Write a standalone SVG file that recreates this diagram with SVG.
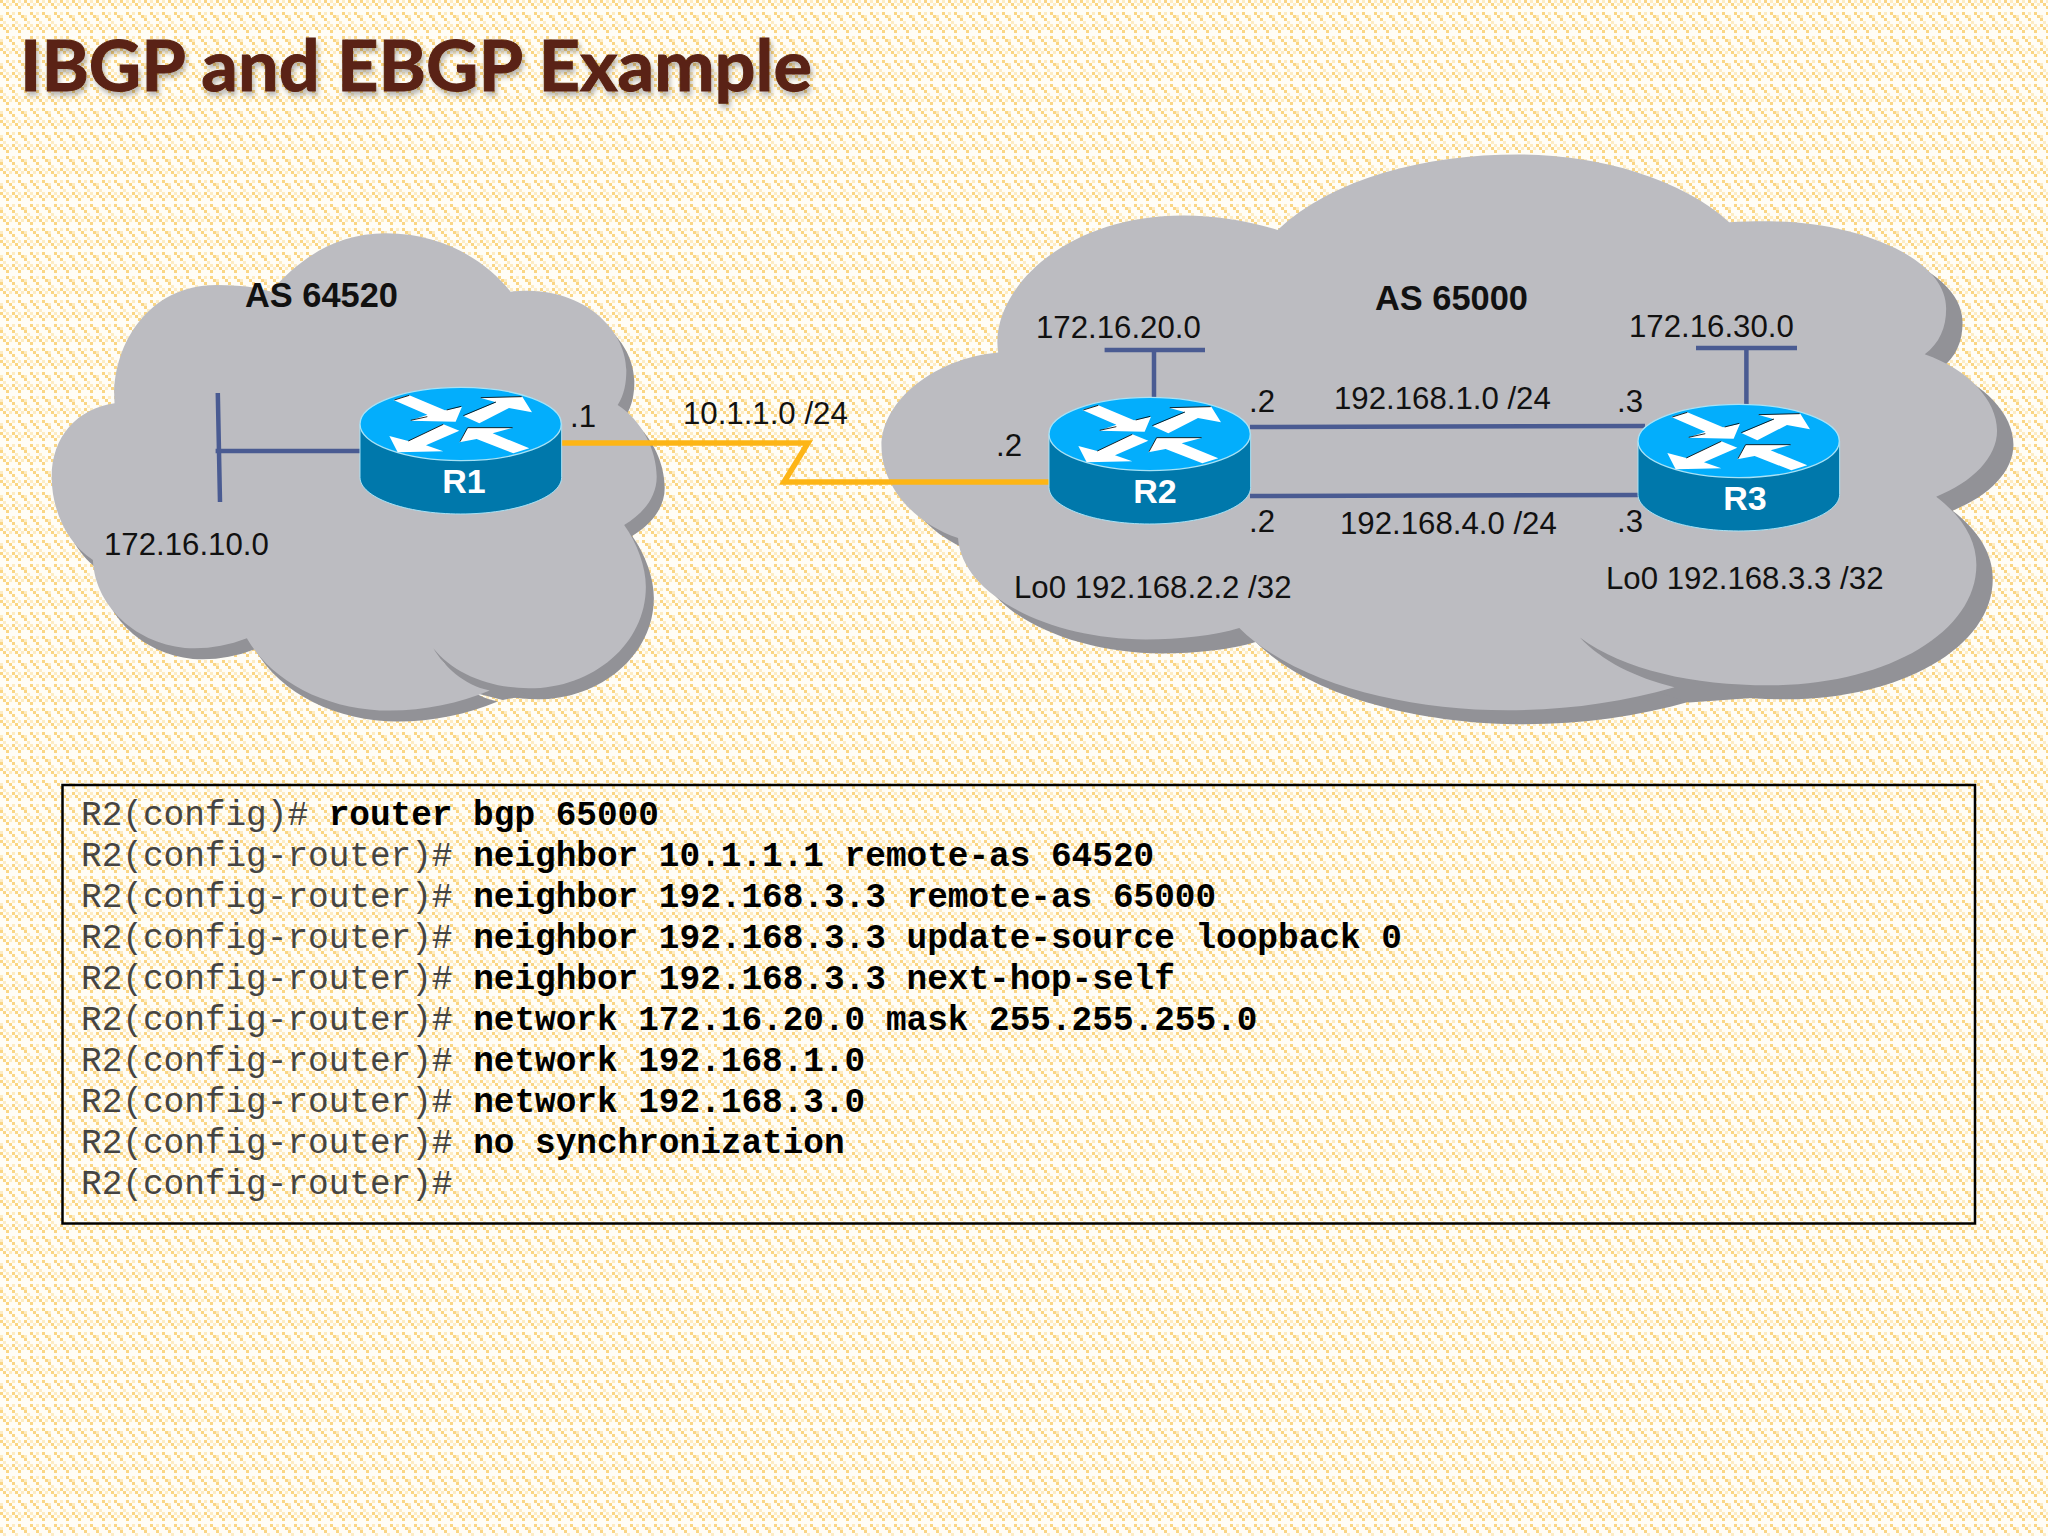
<svg xmlns="http://www.w3.org/2000/svg" xmlns:xlink="http://www.w3.org/1999/xlink" width="2048" height="1536" viewBox="0 0 2048 1536">
<style>
.s{font-family:"Liberation Sans",Arial,sans-serif;font-size:31.2px;fill:#111}
.b{font-family:"Liberation Sans",Arial,sans-serif;font-size:34.4px;font-weight:700;fill:#111}
.rl{font-family:"Liberation Sans",Arial,sans-serif;font-size:34px;font-weight:700;fill:#fff;text-anchor:middle}
.m{font-family:"Liberation Mono","Courier New",monospace;font-size:34.4px;fill:#444}
.m tspan{font-weight:700;fill:#000}
.l{fill:none;stroke:#4a5b92;stroke-width:4.5}
.top{fill:#03aefc;stroke:#a8e2f6;stroke-width:4}
.body{fill:#0078ab;stroke:#a8e2f6;stroke-width:3}
.ar{fill:#fff}
.ae{fill:none;stroke:#000;stroke-width:2.5}
.cl{fill:#bcbcc1}
.sh{fill:#929297}
</style>
<defs>
<pattern id="bg" width="24" height="24" patternUnits="userSpaceOnUse">
<rect width="24" height="24" fill="#fffdf6"/>
<path d="M0 0h3v3h-3zM3 3h3v3h-3zM6 6h3v3h-3zM12 0h3v3h-3zM15 3h3v3h-3zM18 6h3v3h-3zM6 12h3v3h-3zM9 15h3v3h-3zM12 18h3v3h-3zM18 12h3v3h-3zM21 15h3v3h-3zM0 18h3v3h-3z" fill="#fad685"/>
<path d="M9 3h3v3h-3zM21 3h3v3h-3zM3 21h3v3h-3zM15 21h3v3h-3zM6 0h3v3h-3zM18 0h3v3h-3zM0 15h3v3h-3zM12 12h3v3h-3z" fill="#fdecc4"/>
</pattern>
<filter id="ts" x="-5%" y="-20%" width="110%" height="150%"><feDropShadow dx="2" dy="4" stdDeviation="2.5" flood-color="#000" flood-opacity=".28"/></filter>
<path id="c1" d="M195,550 C185,400 260,195 430,195 C475,195 520,200 555,215 C625,110 710,40 820,40 C950,40 1050,120 1108,215 C1120,212 1135,212 1150,212 C1290,215 1375,340 1375,450 C1375,490 1370,525 1355,555 C1410,600 1445,690 1445,770 C1445,830 1415,880 1370,915 C1400,970 1420,1040 1420,1100 C1420,1270 1300,1405 1150,1405 C1060,1405 975,1360 930,1285 C955,1340 1000,1395 1060,1412 C990,1450 910,1472 830,1472 C690,1472 560,1390 500,1255 C460,1275 420,1285 380,1285 C260,1285 150,1170 145,1020 C85,970 50,870 50,770 C50,650 110,565 195,550Z"/>
<path id="c2" d="M335,555 C310,400 500,197 820,197 C905,197 990,212 1065,235 C1210,100 1450,38 1694,38 C1900,38 2120,100 2245,215 C2290,213 2330,212 2368,213 C2560,215 2812,300 2812,440 C2812,490 2795,530 2756,560 C2870,600 2945,680 2945,760 C2945,830 2880,895 2786,932 C2855,985 2891,1045 2891,1110 C2891,1290 2650,1425 2350,1425 C2150,1425 1970,1385 1855,1300 C1910,1360 2000,1405 2102,1430 C1960,1470 1820,1490 1666,1490 C1400,1490 1110,1420 965,1275 C900,1295 810,1305 720,1305 C470,1305 240,1190 230,1040 C110,1000 30,900 30,800 C30,680 170,570 335,555Z"/>
<g id="rt" transform="scale(.3333)">
<path class="body" d="M60,162 V322 C60,382 195,432 362,432 S665,382 665,322 V162Z"/>
<ellipse class="top" cx="362" cy="162" rx="302" ry="110"/>
<path class="ar" d="M160,90 L208,76 L315,121 L366,110 L347,155 L210,152 L262,134Z"/>
<path class="ar" d="M370,138 L468,97 L420,83 L547,80 L576,127 L507,114 L418,160Z"/>
<path class="ar" d="M358,182 L310,163 L205,213 L148,198 L173,247 L310,244 L258,226Z"/>
<path class="ar" d="M568,235 L458,190 L520,173 L383,173 L358,217 L410,207 L520,250Z"/>
<path class="ae" d="M163,90 L208,76M320,120 L364,109M212,151 L262,140M370,137 L468,96M422,83 L545,80M310,163 L205,213M518,173 L383,173 L360,215"/>
</g>
</defs>
<rect id="background" width="2048" height="1536" fill="url(#bg)"/>
<text id="title" x="20" y="91" font-family="Lato,'Open Sans',sans-serif" font-weight="700" font-size="70" fill="#5a2413" stroke="#5a2413" stroke-width="1" textLength="792" lengthAdjust="spacingAndGlyphs" filter="url(#ts)">IBGP and EBGP Example</text>
<g id="as64520">
<use href="#c1" class="sh" transform="translate(38 231) scale(.4337 .3333)"/>
<path class="sh" transform="translate(30 220) scale(.4337 .3333)" d="M930,1285 L1150,1425 L1090,1440 L1000,1410Z"/>
<use href="#c1" class="cl" transform="translate(30 220) scale(.4337 .3333)"/>
<text class="b" x="245" y="307">AS 64520</text>
</g>
<g id="as65000">
<use href="#c2" class="sh" transform="translate(886.4 154) scale(.3827)"/>
<path class="sh" transform="translate(870 140) scale(.3827)" d="M1855,1300 L2350,1455 L2140,1470 L1990,1420Z"/>
<use href="#c2" class="cl" transform="translate(870 140) scale(.3827)"/>
<text class="b" x="1375" y="310">AS 65000</text>
</g>
<g id="connectors">
<path class="l" d="M217.8 393L220 502M215.6 451H360"/>
<path fill="none" stroke="#fdb515" stroke-width="5.5" d="M561 443H808L784 482H1049"/>
<path class="l" d="M1250 427L1645 426M1250 496L1640 495M1154 350V398M1104.6 350H1205M1746.4 348V405M1696 348H1797"/>
</g>
<g id="R1"><use href="#rt" transform="translate(340 370)"/><text class="rl" x="464" y="493">R1</text></g>
<g id="R2"><use href="#rt" transform="translate(1029 380)"/><text class="rl" x="1155" y="503">R2</text></g>
<g id="R3"><use href="#rt" transform="translate(1618 387)"/><text class="rl" x="1745" y="510">R3</text></g>
<g id="labels">
<text class="s" x="104" y="555">172.16.10.0</text>
<text class="s" x="570" y="427">.1</text>
<text class="s" x="683" y="424">10.1.1.0 /24</text>
<text class="s" x="996" y="456">.2</text>
<text class="s" x="1036" y="338">172.16.20.0</text>
<text class="s" x="1249" y="412">.2</text>
<text class="s" x="1249" y="532">.2</text>
<text class="s" x="1334" y="409">192.168.1.0 /24</text>
<text class="s" x="1340" y="534">192.168.4.0 /24</text>
<text class="s" x="1617" y="412">.3</text>
<text class="s" x="1617" y="532">.3</text>
<text class="s" x="1629" y="337">172.16.30.0</text>
<text class="s" x="1014" y="598">Lo0 192.168.2.2 /32</text>
<text class="s" x="1606" y="589">Lo0 192.168.3.3 /32</text>
</g>
<g id="config">
<rect x="62.5" y="785" width="1912.5" height="438.5" fill="none" stroke="#000" stroke-width="2.5"/>
<text class="m" x="81" y="825">R2(config)# <tspan>router bgp 65000</tspan></text>
<text class="m" x="81" y="866">R2(config-router)# <tspan>neighbor 10.1.1.1 remote-as 64520</tspan></text>
<text class="m" x="81" y="907">R2(config-router)# <tspan>neighbor 192.168.3.3 remote-as 65000</tspan></text>
<text class="m" x="81" y="948">R2(config-router)# <tspan>neighbor 192.168.3.3 update-source loopback 0</tspan></text>
<text class="m" x="81" y="989">R2(config-router)# <tspan>neighbor 192.168.3.3 next-hop-self</tspan></text>
<text class="m" x="81" y="1030">R2(config-router)# <tspan>network 172.16.20.0 mask 255.255.255.0</tspan></text>
<text class="m" x="81" y="1071">R2(config-router)# <tspan>network 192.168.1.0</tspan></text>
<text class="m" x="81" y="1112">R2(config-router)# <tspan>network 192.168.3.0</tspan></text>
<text class="m" x="81" y="1153">R2(config-router)# <tspan>no synchronization</tspan></text>
<text class="m" x="81" y="1194">R2(config-router)#</text>
</g>
</svg>
